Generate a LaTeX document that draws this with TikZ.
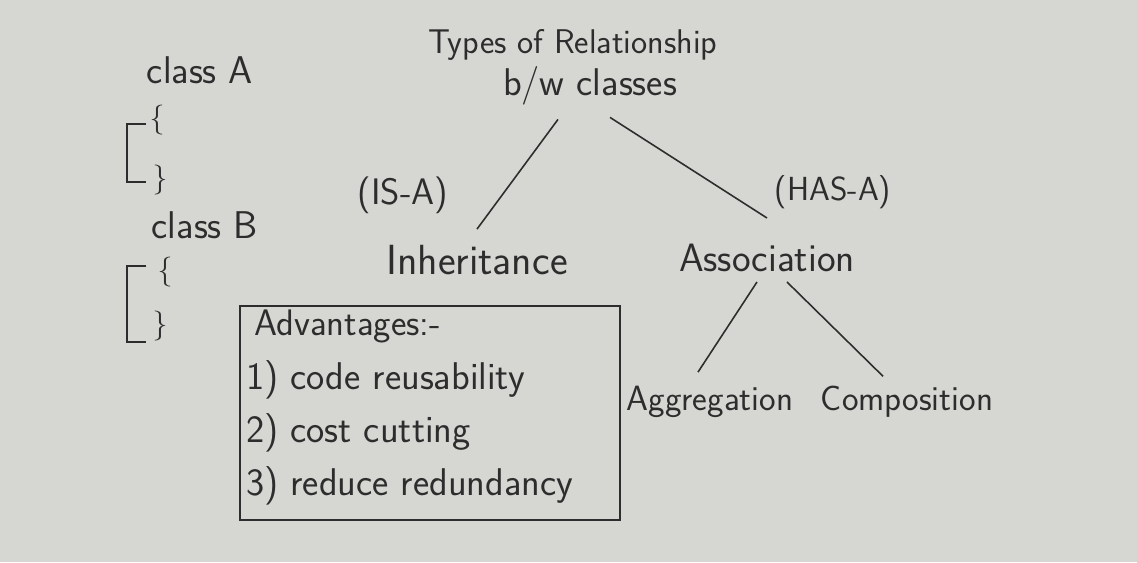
\documentclass[tikz,border=0pt]{standalone}
\usepackage{tikz}
\usetikzlibrary{calc}
\definecolor{board}{RGB}{214,214,211}
\definecolor{ink}{RGB}{45,45,45}
\tikzset{
  hand/.style={draw=none,inner sep=1pt,text=ink,font=\sffamily\fontsize{#1}{#1}\selectfont},
  hand/.default=20,
  item/.style={hand=22,anchor=west},
  link/.style={draw=ink,line width=0.9pt}
}
\newcommand{\bracketline}[3]{\draw[link] ( #1 + 19 , #2 ) -- ( #1 , #2 ) -- ( #1 , #3 ) -- ( #1 + 19 , #3 );}

\begin{document}
\begin{tikzpicture}[x=0.02cm,y=-0.02cm]
\fill[board] (0,0) rectangle (1137,562);
\useasboundingbox (0,0) rectangle (1137,562);
% class A and class B
\node[hand=22] (clsA) at (200,70) {class A};
\node[hand=17] (openA) at (157,120) {\{};
\node[hand=17] (closeA) at (160,180) {\}};
\bracketline{127}{124}{182}
\node[hand=22] (clsB) at (205,225) {class B};
\node[hand=17] (openB) at (165,272) {\{};
\node[hand=17] (closeB) at (160,326) {\}};
\bracketline{127}{266}{342}
% title
\node[hand=19.5] (title1) at (573,45) {Types of Relationship};
\node[hand=22] (title2) at (590,86) {b/w classes};
% first level
\node[hand=21] (isa) at (403,195) {(IS-A)};
\node[hand=24] (inh) at (477,260) {Inheritance};
\node[hand=19] (hasa) at (833,192) {(HAS-A)};
\node[hand=22.5] (assoc) at (767,258) {Association};
% second level
\node[hand] (aggr) at (710,402) {Aggregation};
\node[hand] (comp) at (907,402) {Composition};
% connectors
\draw[link] ($(title2.south)+(-32,12)$) -- ($(inh.north)+(0,-14)$);
\draw[link] ($(title2.south)+(20,10)$) -- ($(assoc.north)+(0,-24)$);
\draw[link] ($(assoc.south)+(-10,8)$) -- ($(aggr.north)+(-12,-12)$);
\draw[link] ($(assoc.south)+(20,8)$) -- ($(comp.north)+(-24,-8)$);
% advantages box
\draw[link] (240,306) rectangle (620,520);
\node[item,hand=21] (adv) at (252,326) {Advantages:-};
\node[item] (adv1) at (244,380) {1) code reusability};
\node[item] (adv2) at (244,433) {2) cost cutting};
\node[item] (adv3) at (244,486) {3) reduce redundancy};
\end{tikzpicture}
\end{document}
